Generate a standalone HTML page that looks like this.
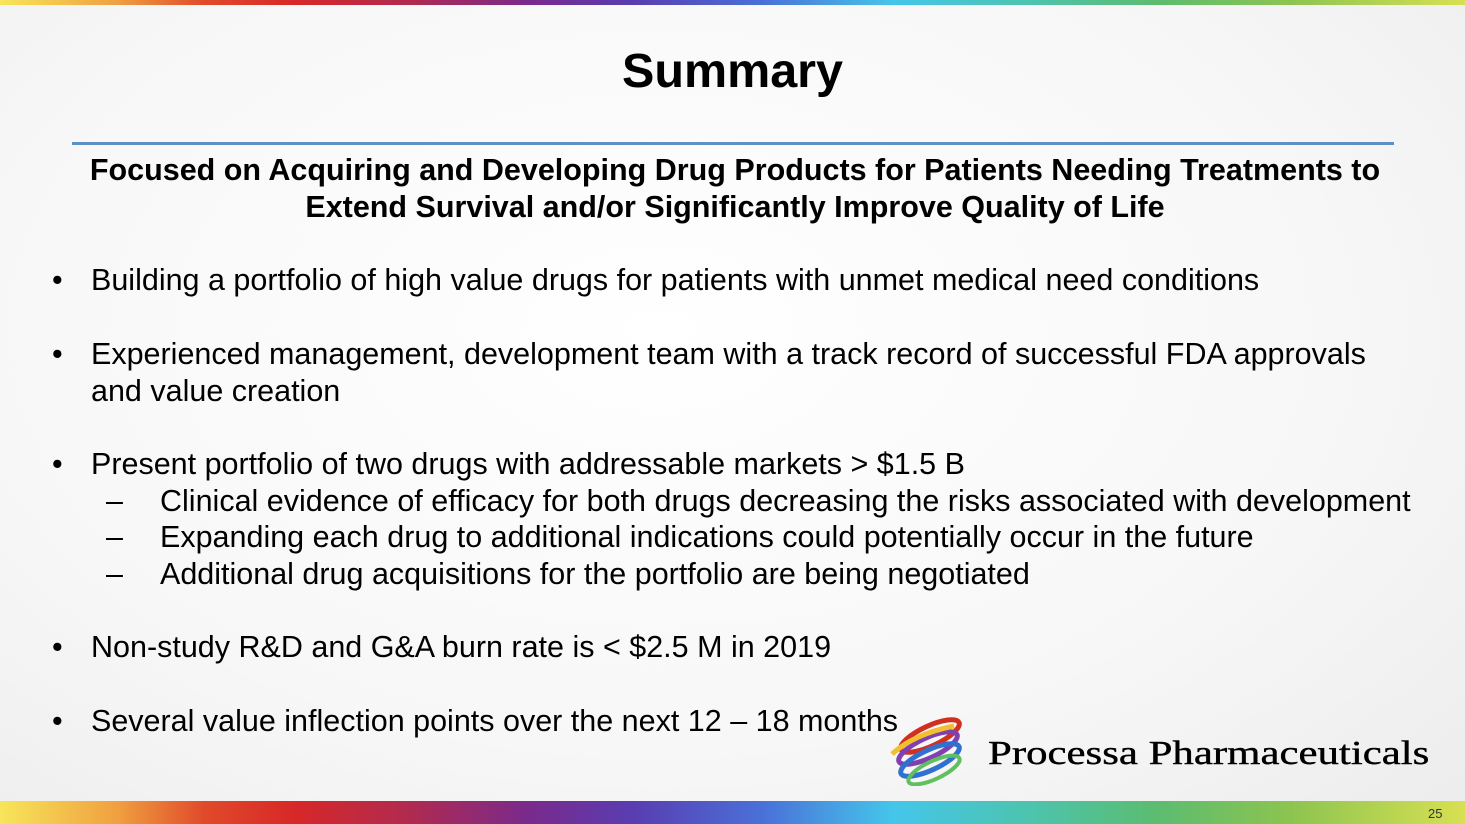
<!DOCTYPE html>
<html><head><meta charset="utf-8"><style>
body{margin:0;width:1465px;height:824px;overflow:hidden;position:relative;font-family:"Liberation Sans",Arial,sans-serif;background:radial-gradient(ellipse at 45% 40%,#ffffff 0%,#f7f7f7 60%,#ececec 100%);}
.bar{position:absolute;left:0;width:1465px;background:linear-gradient(90deg,#f7e65a 0%,#f0a040 8%,#e04a2a 14%,#d82828 20%,#b02a50 28%,#7a2a8c 36%,#5a3cb0 43%,#4a70d8 52%,#45c6ea 61%,#4cc4b0 70%,#5cbc70 79%,#8cc450 88%,#d8e052 100%);}
.t{position:absolute;white-space:nowrap;color:#000;}
.b{font-size:30.5px;line-height:37px;}
</style></head><body>
<div class="bar" style="top:0;height:5px"></div>
<div class="bar" style="top:801px;height:23px"></div>
<div class="t" style="left:1428px;top:806px;font-size:13px;color:#333">25</div>
<div class="t" style="left:0;width:1465px;text-align:center;top:43px;font-size:48.5px;font-weight:bold">Summary</div>
<div style="position:absolute;left:72px;top:142px;width:1322px;height:3px;background:#5f8fc8"></div>
<div class="t" style="left:0;width:1470px;text-align:center;top:152px;font-size:30.5px;font-weight:bold;line-height:37px">Focused on Acquiring and Developing Drug Products for Patients Needing Treatments to<br>Extend Survival and/or Significantly Improve Quality of Life</div>
<div class="t b" style="left:52px;top:262px">•</div><div class="t b" style="left:91px;top:262px">Building a portfolio of high value drugs for patients with unmet medical need conditions</div>
<div class="t b" style="left:52px;top:336px">•</div><div class="t b" style="left:91px;top:336px">Experienced management, development team with a track record of successful FDA approvals<br>and value creation</div>
<div class="t b" style="left:52px;top:446px">•</div><div class="t b" style="left:91px;top:446px">Present portfolio of two drugs with addressable markets &gt; $1.5 B</div>
<div class="t b" style="left:106px;top:483px">–</div><div class="t b" style="left:160px;top:483px">Clinical evidence of efficacy for both drugs decreasing the risks associated with development</div>
<div class="t b" style="left:106px;top:519px">–</div><div class="t b" style="left:160px;top:519px">Expanding each drug to additional indications could potentially occur in the future</div>
<div class="t b" style="left:106px;top:556px">–</div><div class="t b" style="left:160px;top:556px">Additional drug acquisitions for the portfolio are being negotiated</div>
<div class="t b" style="left:52px;top:629px">•</div><div class="t b" style="left:91px;top:629px">Non-study R&amp;D and G&amp;A burn rate is &lt; $2.5 M in 2019</div>
<div class="t b" style="left:52px;top:703px">•</div><div class="t b" style="left:91px;top:703px">Several value inflection points over the next 12 – 18 months</div>
<svg style="position:absolute;left:884px;top:714px" width="92" height="72">
<ellipse cx="46" cy="22" rx="32" ry="10" transform="rotate(-25 46 22)" fill="none" stroke="#d03020" stroke-width="5"/>
<ellipse cx="44" cy="34" rx="32" ry="10" transform="rotate(-25 44 34)" fill="none" stroke="#8040b0" stroke-width="5"/>
<ellipse cx="46" cy="46" rx="32" ry="10" transform="rotate(-25 46 46)" fill="none" stroke="#3070d0" stroke-width="5"/>
<ellipse cx="50" cy="56" rx="28" ry="9" transform="rotate(-25 50 56)" fill="none" stroke="#60c060" stroke-width="4"/>
<path d="M8 40 Q30 20 70 12" fill="none" stroke="#f0c030" stroke-width="5"/>
</svg>
<div class="t" style="left:988px;top:735px;font-family:'Liberation Serif',serif;font-size:34px;transform:scaleX(1.26);transform-origin:0 0;-webkit-text-stroke:0.4px #000">Processa Pharmaceuticals</div>
</body></html>
